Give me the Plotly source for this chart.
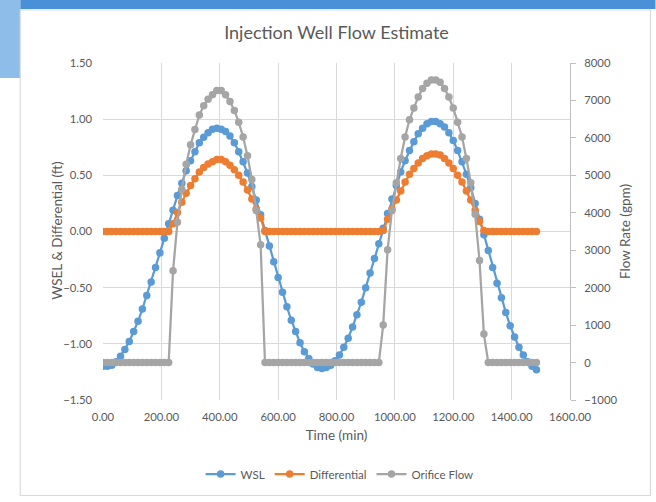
import plotly.graph_objects as go

# Time samples (min), one every 15 minutes
time_min = list(range(0, 1486, 15))

wsl = [
    -1.20, -1.20, -1.19, -1.16, -1.11, -1.05, -0.98, -0.89, -0.80, -0.69,
    -0.57, -0.45, -0.32, -0.19, -0.06, 0.07, 0.19, 0.32, 0.43, 0.54,
    0.63, 0.71, 0.79, 0.84, 0.88, 0.91, 0.92, 0.91, 0.89, 0.85,
    0.79, 0.71, 0.62, 0.52, 0.40, 0.28, 0.15, 0.01, -0.13, -0.27,
    -0.41, -0.54, -0.67, -0.79, -0.89, -0.99, -1.07, -1.13, -1.18, -1.21,
    -1.22, -1.21, -1.19, -1.15, -1.10, -1.03, -0.95, -0.85, -0.74, -0.63,
    -0.50, -0.37, -0.24, -0.11, 0.03, 0.16, 0.29, 0.41, 0.53, 0.63,
    0.72, 0.80, 0.87, 0.92, 0.96, 0.98, 0.98, 0.96, 0.93, 0.88,
    0.81, 0.72, 0.62, 0.51, 0.39, 0.25, 0.11, -0.03, -0.17, -0.32,
    -0.46, -0.59, -0.72, -0.84, -0.94, -1.03, -1.10, -1.16, -1.20, -1.23,
]

differential = [
    0, 0, 0, 0, 0, 0, 0, 0, 0, 0,
    0, 0, 0, 0, 0, 0, 0.07, 0.17, 0.26, 0.34,
    0.41, 0.47, 0.53, 0.57, 0.60, 0.62, 0.64, 0.64, 0.62, 0.59,
    0.55, 0.50, 0.44, 0.37, 0.29, 0.20, 0.12, 0, 0, 0,
    0, 0, 0, 0, 0, 0, 0, 0, 0, 0,
    0, 0, 0, 0, 0, 0, 0, 0, 0, 0,
    0, 0, 0, 0, 0.01, 0.11, 0.20, 0.28, 0.36, 0.44,
    0.51, 0.56, 0.61, 0.65, 0.675, 0.69, 0.69, 0.68, 0.65, 0.61,
    0.56, 0.50, 0.44, 0.36, 0.28, 0.19, 0.09, 0.01, 0, 0,
    0, 0, 0, 0, 0, 0, 0, 0, 0, 0,
]

orifice_flow = [
    0, 0, 0, 0, 0, 0, 0, 0, 0, 0,
    0, 0, 0, 0, 0, 0, 2450, 3744, 4630, 5294,
    5814, 6225, 6610, 6855, 7033, 7150, 7264, 7264, 7150, 6975,
    6734, 6420, 6023, 5523, 4890, 4061, 3145, 0, 0, 0,
    0, 0, 0, 0, 0, 0, 0, 0, 0, 0,
    0, 0, 0, 0, 0, 0, 0, 0, 0, 0,
    0, 0, 0, 0, 1000, 3011, 4061, 4805, 5448, 6023,
    6484, 6795, 7092, 7320, 7460, 7543, 7543, 7488, 7320, 7092,
    6795, 6420, 6023, 5448, 4805, 3958, 2724, 760, 0, 0,
    0, 0, 0, 0, 0, 0, 0, 0, 0, 0,
]

FONT = "Lato"
TXT = "#595959"
GRID = "#d9d9d9"

fig = go.Figure()
fig.add_trace(go.Scatter(x=time_min, y=wsl, name="WSL", mode="lines+markers",
                         line=dict(color="#5b9bd5", width=2.25),
                         marker=dict(color="#5b9bd5", size=7.5)))
fig.add_trace(go.Scatter(x=time_min, y=differential, name="Differential", mode="lines+markers",
                         line=dict(color="#ed7d31", width=2.25),
                         marker=dict(color="#ed7d31", size=7.5)))
fig.add_trace(go.Scatter(x=time_min, y=orifice_flow, name="Orifice Flow", mode="lines+markers",
                         yaxis="y2",
                         line=dict(color="#a5a5a5", width=2.25),
                         marker=dict(color="#a5a5a5", size=7.5)))

# plot area geometry (px)
L, R, T, B = 103.3, 570.5, 63, 400
W, H = 656, 502
pw, ph = R - L, B - T

def px(x):
    return (x - L) / pw

def py(y):
    return (B - y) / ph

shapes = [
    # top blue band
    dict(type="rect", xref="paper", yref="paper", x0=px(0), x1=px(W), y0=py(9), y1=py(0),
         fillcolor="#4a90d9", line=dict(width=0), layer="below"),
    # left light-blue strip
    dict(type="rect", xref="paper", yref="paper", x0=px(0), x1=px(21), y0=py(78), y1=py(0),
         fillcolor="#8dbde8", line=dict(width=0), layer="below"),
    # chart frame
    dict(type="rect", xref="paper", yref="paper", x0=px(20.5), x1=px(651), y0=py(495.5), y1=py(10),
         fillcolor="white", line=dict(color="#d9d9d9", width=1.2), layer="below"),
]

annotations = [
    dict(text="WSEL & Differential (ft)", xref="paper", yref="paper", x=px(57), y=py(231),
         xanchor="center", yanchor="middle", textangle=-90, showarrow=False,
         font=dict(family=FONT, size=13.5, color=TXT)),
]

fig.update_layout(
    width=W, height=H,
    margin=dict(l=L, r=W - R, t=T, b=H - B, pad=0),
    paper_bgcolor="white", plot_bgcolor="rgba(0,0,0,0)",
    font=dict(family=FONT, color=TXT, size=11),
    title=dict(text="Injection Well Flow Estimate", x=0.5, xref="paper", xanchor="center",
               y=1 - 33 / H, yref="container", yanchor="middle",
               font=dict(family=FONT, size=18, color=TXT)),
    shapes=shapes,
    annotations=annotations,
    showlegend=True,
    legend=dict(orientation="h", x=px(340), xanchor="center", y=py(474), yanchor="middle",
                font=dict(family=FONT, size=11.5, color=TXT), bgcolor="rgba(0,0,0,0)",
                itemwidth=30, tracegroupgap=0),
    xaxis=dict(range=[0, 1600], dtick=200, tick0=0, tickformat=".2f",
               showgrid=True, gridcolor=GRID, gridwidth=1, zeroline=False, showline=False,
               ticks="", ticklabelstandoff=9,
               title=dict(text="Time (min)", font=dict(size=13.5, color=TXT), standoff=8),
               tickfont=dict(size=11.3, color=TXT)),
    yaxis=dict(range=[-1.5, 1.5], dtick=0.5, tick0=0, tickformat=".2f",
               showgrid=True, gridcolor=GRID, gridwidth=1, zeroline=False, showline=False,
               ticks="", ticklabelstandoff=10,
               tickfont=dict(size=11.3, color=TXT)),
    yaxis2=dict(range=[-1000, 8000], dtick=1000, tick0=0, overlaying="y", side="right",
                showgrid=False, zeroline=False, showline=True, linecolor="#bfbfbf", linewidth=1,
                ticks="outside", ticklen=5, tickcolor="#bfbfbf", ticklabelstandoff=6,
                title=dict(text="Flow Rate (gpm)", font=dict(size=13.5, color=TXT), standoff=4),
                tickfont=dict(size=11.3, color=TXT)),
)

fig.write_html(
    "out.html",
    config={"displayModeBar": False},
    post_script=("document.body.style.margin='0';"
                 "document.body.style.overflow='hidden';"
                 "document.documentElement.style.overflow='hidden';"),
)
